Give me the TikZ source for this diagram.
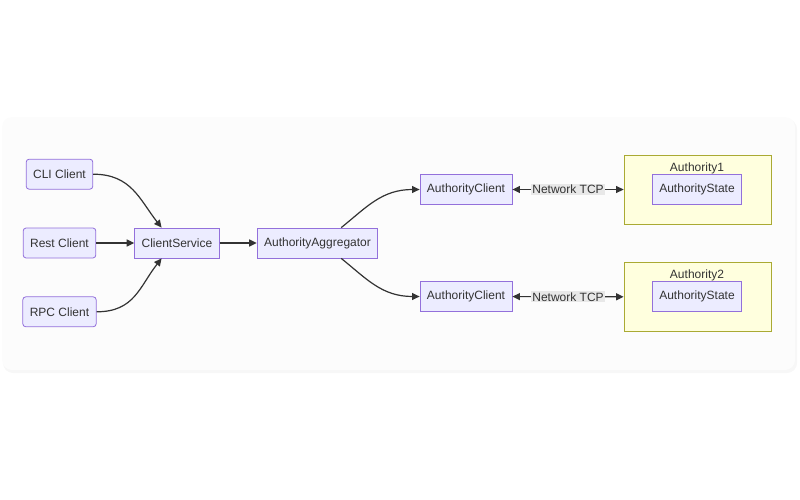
\documentclass[tikz,border=0pt]{standalone}
\usepackage{fontspec}
\setmainfont{Liberation Sans}
\usetikzlibrary{arrows.meta,positioning}

\definecolor{boxfill}{HTML}{ECECFF}
\definecolor{boxline}{HTML}{9370DB}
\definecolor{authfill}{HTML}{FFFFDE}
\definecolor{authline}{HTML}{AAAA33}
\definecolor{edgecol}{HTML}{333333}
\definecolor{lblfill}{HTML}{E8E8E8}

\begin{document}
\begin{tikzpicture}[x=1pt,y=-1pt,->,>={Stealth[inset=0pt,length=7.5pt,width=7pt]},
    every node/.style={font=\fontsize{12}{14}\selectfont,text=edgecol},
    proc/.style={draw=boxline,fill=boxfill,line width=0.8pt,minimum height=30pt,inner xsep=7pt},
    client/.style={proc,rounded corners=3pt},
    authbox/.style={draw=authline,fill=authfill,line width=0.8pt,minimum width=147pt,minimum height=69pt},
    netlbl/.style={fill=lblfill,inner sep=1pt},
    link/.style={draw=edgecol,line width=1.2pt}]
    \useasboundingbox (0,0) rectangle (800,500);
    % card behind the graph
    \fill[black!3,rounded corners=10pt] (3,119) rectangle (797,373);
    \fill[black!1,rounded corners=10pt] (2,117) rectangle (795,370);

    \node[client] (rest) at (59.5,243) {Rest Client};
    \node[client, above=38pt of rest] (cli) {CLI Client};
    \node[client, below=38pt of rest] (rpc) {RPC Client};
    \node[proc, right=38pt of rest] (cs) {ClientService};
    \node[proc, right=37pt of cs] (agg) {AuthorityAggregator};
    \node[proc] (acA) at (466,189.5) {AuthorityClient};
    \node[proc] (acB) at (466,296.5) {AuthorityClient};

    % the two authorities
    \node[authbox] (authA) at (697.5,189.5) {};
    \node[authbox] (authB) at (697.5,297) {};
    \node[proc] (stA) at (697,189.5) {AuthorityState};
    \node[proc] (stB) at (697,296.5) {AuthorityState};
    \node[above=-3pt of stA] (tA) {Authority1};
    \node[above=-3pt of stB] (tB) {Authority2};

    \draw[link] (cli.east) .. controls +(38,0) and +(-22,-28) .. (cs.135);
    \draw[link] (rest) -- (cs);
    \draw[link] (rpc.east) .. controls +(38,0) and +(-22,28) .. (cs.225);
    \draw[link] (cs) -- (agg);
    \draw[link] (agg.33) .. controls +(25,-20) and +(-38,0) .. (acA.west);
    \draw[link] (agg.-33) .. controls +(25,20) and +(-38,0) .. (acB.west);
    \draw[link,<->] (acA) -- node[netlbl]{Network TCP} (authA);
    \draw[link,<->] (acB) -- node[netlbl]{Network TCP} (authB);
\end{tikzpicture}
\end{document}
